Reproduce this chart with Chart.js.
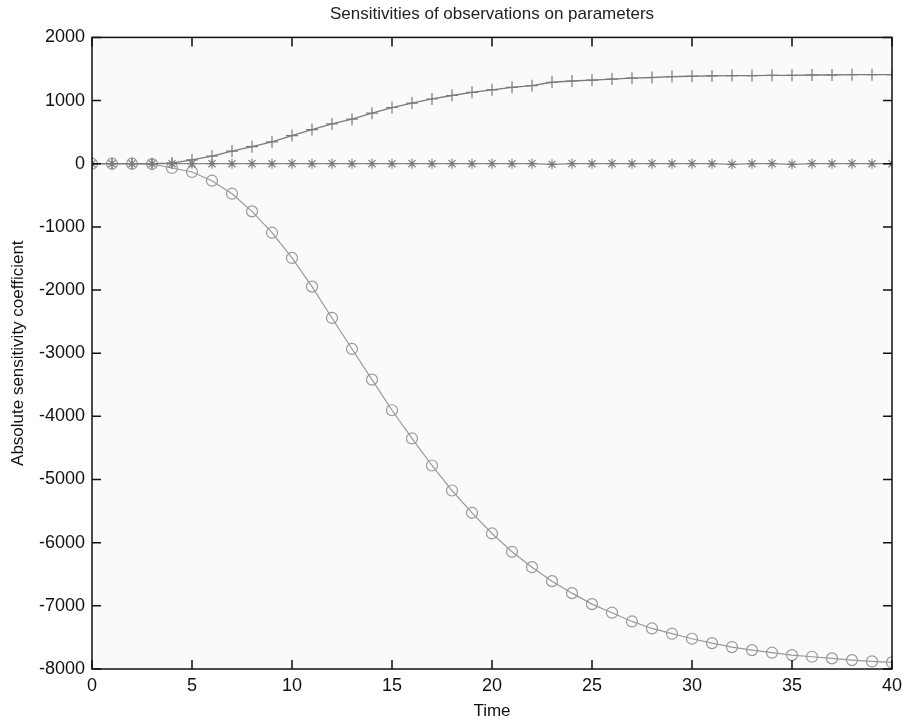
<!DOCTYPE html>
<html>
<head>
<meta charset="utf-8">
<script src="https://cdn.jsdelivr.net/npm/chart.js@4/dist/chart.umd.min.js"></script>
<style>
  html, body { margin: 0; padding: 0; background: #fff; }
  #wrap { width: 909px; height: 726px; }
</style>
</head>
<body>
<div id="wrap"><canvas id="sens"></canvas></div>
<script>
// time points, 0..40
const times = [0,1,2,3,4,5,6,7,8,9,10,11,12,13,14,15,16,17,18,19,20,
  21,22,23,24,25,26,27,28,29,30,31,32,33,34,35,36,37,38,39,40];

// series
const circleVals = [0,0,0,-5,-68,-131,-269,-475,-754,-1092,-1492,-1946,-2442,-2933,-3418,-3903,
  -4350,-4778,-5174,-5527,-5854,-6144,-6388,-6609,-6799,-6973,-7109,-7247,-7358,-7441,-7521,
  -7590,-7653,-7701,-7742,-7780,-7806,-7832,-7859,-7880,-7896];
const plusVals = [0,0,0,0,10,60,120,200,270,345,445,540,630,705,800,890,960,1025,1080,1130,1170,
  1210,1235,1290,1310,1325,1340,1355,1365,1380,1385,1390,1395,1395,1400,1400,1405,1405,1410,1410,1410];
const starVals = [0,0,0,0,0,0,0,0,0,0,0,0,0,0,0,0,0,0,0,0,0,
  0,0,-10,0,0,0,0,0,0,0,0,-10,0,0,-10,0,0,0,0,0];

const xTicks = [0,5,10,15,20,25,30,35,40];
const yTicks = [2000,1000,0,-1000,-2000,-3000,-4000,-5000,-6000,-7000,-8000];

function toPoints(vals) {
  return times.map((t, i) => ({ x: t, y: vals[i] }));
}

// light plot background + black box with inward ticks
const frame = {
  id: "frame",
  beforeDatasetsDraw(chart) {
    const a = chart.chartArea, c = chart.ctx;
    c.save();
    c.fillStyle = "#fafafa";
    c.fillRect(a.left, a.top, a.right - a.left, a.bottom - a.top);
    c.restore();
  },
  afterDatasetsDraw(chart) {
    const a = chart.chartArea, c = chart.ctx;
    const xs = chart.scales.x, ys = chart.scales.y;
    const len = 9;
    c.save();
    c.strokeStyle = "#111";
    c.lineWidth = 1.5;
    c.strokeRect(a.left, a.top, a.right - a.left, a.bottom - a.top);
    c.beginPath();
    xTicks.forEach(v => {
      const px = xs.getPixelForValue(v);
      c.moveTo(px, a.bottom); c.lineTo(px, a.bottom - len);
      c.moveTo(px, a.top); c.lineTo(px, a.top + len);
    });
    yTicks.forEach(v => {
      const py = ys.getPixelForValue(v);
      c.moveTo(a.left, py); c.lineTo(a.left + len, py);
      c.moveTo(a.right, py); c.lineTo(a.right - len, py);
    });
    c.stroke();
    c.restore();
  }
};

const font = "'Liberation Sans', Arial, Helvetica, sans-serif";

new Chart(document.getElementById("sens"), {
  type: "line",
  data: {
    datasets: [
      {
        data: toPoints(plusVals),
        borderColor: "#7a7a7a",
        borderWidth: 1.3,
        pointStyle: "cross",
        pointRadius: 6,
        pointBorderColor: "#7a7a7a",
        pointBorderWidth: 1.2,
        pointBackgroundColor: "transparent",
      },
      {
        data: toPoints(starVals),
        borderColor: "#8a8a8a",
        borderWidth: 1.3,
        pointStyle: "star",
        pointRadius: 5,
        pointBorderColor: "#777",
        pointBorderWidth: 1.1,
        pointBackgroundColor: "transparent",
      },
      {
        data: toPoints(circleVals),
        borderColor: "#9a9a9a",
        borderWidth: 1.2,
        pointStyle: "circle",
        pointRadius: 5.5,
        pointBorderColor: "#999",
        pointBorderWidth: 1.2,
        pointBackgroundColor: "transparent",
      },
    ],
  },
  options: {
    responsive: true,
    maintainAspectRatio: false,
    animation: false,
    layout: { padding: { left: 0, right: 17, top: 0, bottom: 0 } },
    plugins: {
      legend: { display: false },
      tooltip: { enabled: false },
      title: {
        display: true,
        fullSize: false,
        text: "Sensitivities of observations on parameters",
        color: "#222",
        font: { family: font, size: 17, weight: "normal" },
        padding: { top: 4, bottom: 13 },
      },
    },
    scales: {
      x: {
        type: "linear",
        min: 0,
        max: 40,
        afterBuildTicks: (s) => { s.ticks = xTicks.map(v => ({ value: v })); },
        afterFit: (s) => { s.height = 57; },
        grid: { display: false, drawTicks: false },
        border: { display: false },
        ticks: {
          color: "#111", font: { family: font, size: 18 }, padding: 6, maxRotation: 0,
          callback: (v) => String(v),
        },
        title: {
          display: true, text: "Time", color: "#111",
          font: { family: font, size: 17 }, padding: { top: 0, bottom: 4 },
        },
      },
      y: {
        type: "linear",
        min: -8000,
        max: 2000,
        afterBuildTicks: (s) => { s.ticks = yTicks.map(v => ({ value: v })); },
        afterFit: (s) => { s.width = 92; },
        grid: { display: false, drawTicks: false },
        border: { display: false },
        ticks: {
          color: "#111", font: { family: font, size: 18 }, padding: 7,
          callback: (v) => String(v),
        },
        title: {
          display: true, text: "Absolute sensitivity coefficient", color: "#111",
          font: { family: font, size: 17 }, padding: { top: 8, bottom: 4 },
        },
      },
    },
  },
  plugins: [frame],
});
</script>
</body>
</html>
